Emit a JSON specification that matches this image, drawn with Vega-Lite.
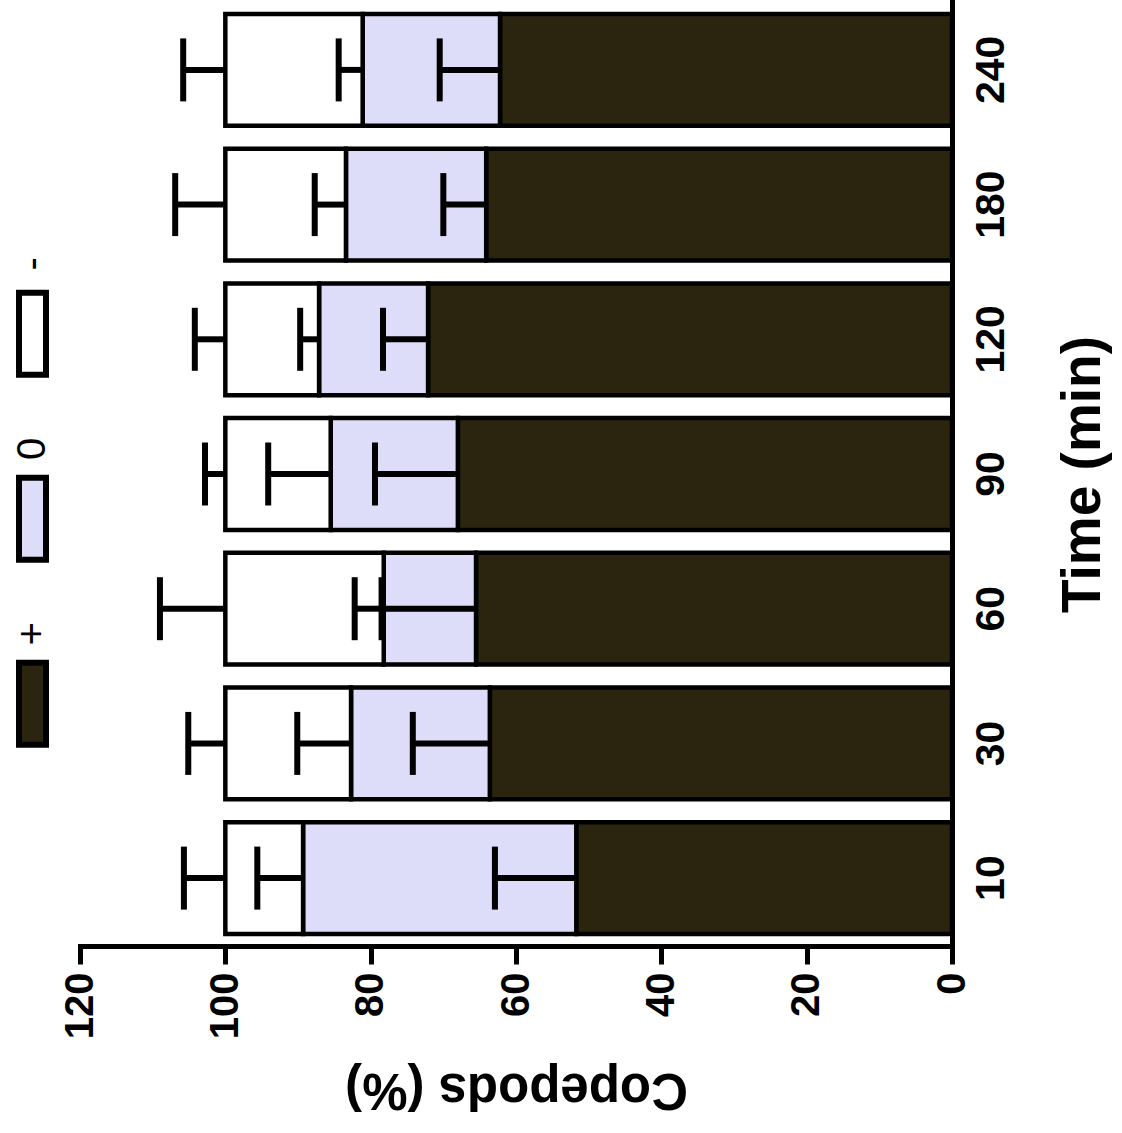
{
  "$schema": "https://vega.github.io/schema/vega-lite/v6.json",
  "background": "white",
  "padding": {"left": 12, "top": 2, "right": 172, "bottom": 187},
  "bounds": "flush",
  "spacing": 34,
  "config": {"view": {"stroke": null}, "font": "Liberation Sans"},
  "datasets": {
    "bars": [
      {"time": "10", "group": "+", "lo": 0, "hi": 51.7, "err": 62.9},
      {"time": "10", "group": "0", "lo": 51.7, "hi": 89.3, "err": 95.6},
      {"time": "10", "group": "-", "lo": 89.3, "hi": 100, "err": 105.7},
      {"time": "30", "group": "+", "lo": 0, "hi": 63.6, "err": 74.2},
      {"time": "30", "group": "0", "lo": 63.6, "hi": 82.7, "err": 90.1},
      {"time": "30", "group": "-", "lo": 82.7, "hi": 100, "err": 105.1},
      {"time": "60", "group": "+", "lo": 0, "hi": 65.5, "err": 78.5},
      {"time": "60", "group": "0", "lo": 65.5, "hi": 78.2, "err": 82.2},
      {"time": "60", "group": "-", "lo": 78.2, "hi": 100, "err": 109.0},
      {"time": "90", "group": "+", "lo": 0, "hi": 68.0, "err": 79.4},
      {"time": "90", "group": "0", "lo": 68.0, "hi": 85.5, "err": 94.1},
      {"time": "90", "group": "-", "lo": 85.5, "hi": 100, "err": 102.8},
      {"time": "120", "group": "+", "lo": 0, "hi": 72.1, "err": 78.3},
      {"time": "120", "group": "0", "lo": 72.1, "hi": 87.1, "err": 89.7},
      {"time": "120", "group": "-", "lo": 87.1, "hi": 100, "err": 104.2},
      {"time": "180", "group": "+", "lo": 0, "hi": 64.1, "err": 70.0},
      {"time": "180", "group": "0", "lo": 64.1, "hi": 83.4, "err": 87.7},
      {"time": "180", "group": "-", "lo": 83.4, "hi": 100, "err": 106.9},
      {"time": "240", "group": "+", "lo": 0, "hi": 62.2, "err": 70.5},
      {"time": "240", "group": "0", "lo": 62.2, "hi": 81.1, "err": 84.4},
      {"time": "240", "group": "-", "lo": 81.1, "hi": 100, "err": 105.8}
    ],
    "groups": [
      {"group": "+"},
      {"group": "0"},
      {"group": "-"}
    ]
  },
  "hconcat": [
    {
      "width": 27,
      "height": 822,
      "data": {"name": "groups"},
      "layer": [
        {
          "mark": {"type": "rect", "stroke": "black", "strokeWidth": 6},
          "encoding": {
            "y": {
              "field": "group", "type": "nominal", "axis": null,
              "sort": ["-", "0", "+"],
              "scale": {"paddingInner": 0.557, "paddingOuter": 1, "align": 0.786}
            },
            "fill": {
              "field": "group", "type": "nominal", "legend": null,
              "scale": {"domain": ["+", "0", "-"], "range": ["#2b2510", "#dddcf9", "#ffffff"]}
            }
          }
        },
        {
          "mark": {"type": "text", "angle": 270, "fontSize": 40, "align": "center", "baseline": "middle", "yOffset": -70, "color": "black"},
          "encoding": {
            "y": {"field": "group", "type": "nominal", "axis": null, "sort": ["-", "0", "+"]},
            "text": {"field": "group"}
          }
        }
      ]
    },
    {
      "width": 872,
      "height": 944,
      "data": {"name": "bars"},
      "encoding": {
        "y": {
          "field": "time", "type": "nominal",
          "sort": ["240", "180", "120", "90", "60", "30", "10"],
          "scale": {"paddingInner": 0.17, "paddingOuter": 0.089},
          "axis": {
            "orient": "right", "title": "Time (min)", "ticks": false,
            "domainColor": "black", "domainWidth": 5, "domainCap": "square",
            "labelAngle": 270, "labelAlign": "center", "labelBaseline": "top",
            "labelFontSize": 41, "labelFontWeight": "bold", "labelColor": "black", "labelPadding": 19,
            "titleAngle": 270, "titleBaseline": "top", "titleAlign": "center",
            "titleFontSize": 55, "titleFontWeight": "bold", "titleColor": "black", "titlePadding": 45
          }
        }
      },
      "layer": [
        {
          "mark": {"type": "bar", "stroke": "black", "strokeWidth": 4.5},
          "encoding": {
            "x": {
              "field": "lo", "type": "quantitative",
              "scale": {"domain": [0, 120], "reverse": true, "nice": false, "zero": true},
              "axis": {
                "orient": "bottom", "title": "Copepods (%)", "values": [0, 20, 40, 60, 80, 100, 120],
                "grid": false, "domainColor": "black", "domainWidth": 5, "domainCap": "square",
                "tickColor": "black", "tickWidth": 5, "tickSize": 18,
                "labelAngle": 270, "labelAlign": "right", "labelBaseline": "middle",
                "labelFontSize": 40, "labelFontWeight": "bold", "labelColor": "black", "labelPadding": 8,
                "labelFlush": false, "labelOverlap": false,
                "titleAngle": 180, "titleBaseline": "bottom", "titleAlign": "center",
                "titleFontSize": 51, "titleFontWeight": "bold", "titleColor": "black", "titlePadding": 24
              }
            },
            "x2": {"field": "hi"},
            "fill": {"field": "group", "type": "nominal", "legend": null}
          }
        },
        {
          "mark": {"type": "rule", "stroke": "black", "strokeWidth": 6},
          "encoding": {
            "x": {"field": "hi", "type": "quantitative"},
            "x2": {"field": "err"}
          }
        },
        {
          "mark": {"type": "tick", "color": "black", "size": 63, "thickness": 6, "orient": "vertical", "opacity": 1},
          "encoding": {
            "x": {"field": "err", "type": "quantitative"}
          }
        }
      ]
    }
  ]
}
